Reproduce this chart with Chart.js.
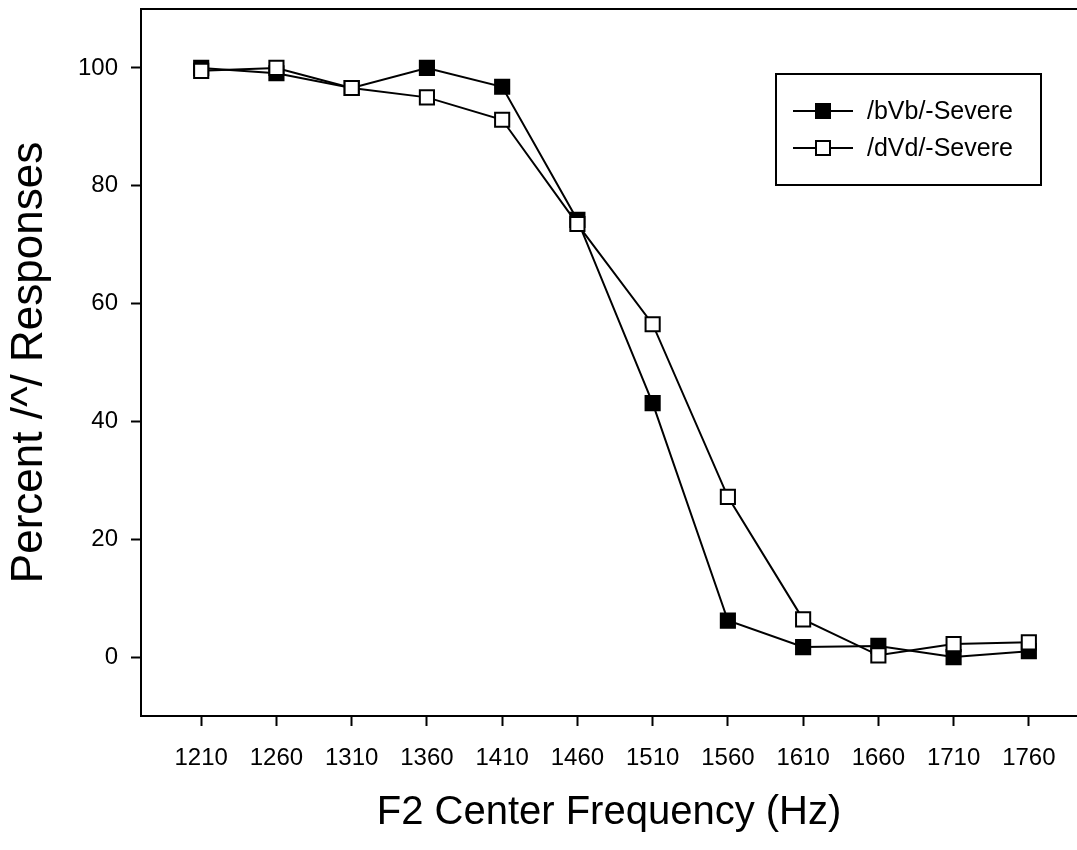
<!DOCTYPE html>
<html>
<head>
<meta charset="utf-8">
<script src="https://cdn.jsdelivr.net/npm/chart.js@4.4.0/dist/chart.umd.min.js"></script>
<style>
    html, body { margin: 0; padding: 0; background: #fff; overflow: hidden; }
    canvas { display: block; }
</style>
</head>
<body>
<canvas id="graficoF2" width="1077" height="850"></canvas>
<script>
// valores
var frequencias = [1210, 1260, 1310, 1360, 1410, 1460, 1510, 1560, 1610, 1660, 1710, 1760];
var valoresBVb = [100, 99.1, 96.6, 100, 96.8, 74.2, 43.1, 6.2, 1.7, 1.9, 0, 1.0];
var valoresDVd = [99.5, 100, 96.6, 95, 91.2, 73.5, 56.5, 27.2, 6.4, 0.3, 2.2, 2.5];
var ticksY = [0, 20, 40, 60, 80, 100];
var ticksX = frequencias;
var nomesSeries = ["/bVb/-Severe", "/dVd/-Severe"];

var fonte = "'Liberation Sans', Arial, sans-serif";

function MontarPontos(valores) {
    return frequencias.map(function (f, i) { return { x: f, y: valores[i] }; });
}

// sem o espaco extra que o Chart.js reserva para os rotulos das pontas
function ZerarPadding(scale) {
    scale.paddingTop = 0;
    scale.paddingBottom = 0;
    scale.paddingLeft = 0;
    scale.paddingRight = 0;
}

// legenda desenhada a mao: linha atravessando o marcador, como no original
var legendaComLinha = {
    id: "legendaComLinha",
    afterDraw: function (chart) {
        var ctx = chart.ctx;
        var area = chart.chartArea;

        // linha de cima do quadro
        ctx.save();
        ctx.strokeStyle = "#000";
        ctx.lineWidth = 2;
        ctx.beginPath();
        ctx.moveTo(area.left - 1, area.top);
        ctx.lineTo(area.right, area.top);
        ctx.stroke();

        // caixa da legenda
        ctx.strokeRect(776, 74, 265, 111);

        chart.data.datasets.forEach(function (ds, i) {
            var y = 111 + i * 37;
            ctx.strokeStyle = "#000";
            ctx.lineWidth = 2;
            ctx.beginPath();
            ctx.moveTo(793, y);
            ctx.lineTo(853, y);
            ctx.stroke();

            var lado = 14;
            ctx.fillStyle = ds.pointBackgroundColor;
            ctx.fillRect(823 - lado / 2, y - lado / 2, lado, lado);
            ctx.strokeRect(823 - lado / 2, y - lado / 2, lado, lado);

            ctx.fillStyle = "#000";
            ctx.font = "25px " + fonte;
            ctx.textAlign = "left";
            ctx.textBaseline = "middle";
            ctx.fillText(ds.label, 867, y + 1);
        });
        ctx.restore();
    }
};

var options = {
    type: "line",
    data: {
        datasets: [
            {
                label: nomesSeries[0],
                data: MontarPontos(valoresBVb),
                borderColor: "#000",
                borderWidth: 2,
                pointStyle: "rect",
                pointRadius: 10,
                pointBorderWidth: 2,
                pointBorderColor: "#000",
                pointBackgroundColor: "#000",
                tension: 0,
                order: 1
            },
            {
                label: nomesSeries[1],
                data: MontarPontos(valoresDVd),
                borderColor: "#000",
                borderWidth: 2,
                pointStyle: "rect",
                pointRadius: 10,
                pointBorderWidth: 2,
                pointBorderColor: "#000",
                pointBackgroundColor: "#fff",
                tension: 0,
                order: 0
            }
        ]
    },
    options: {
        responsive: false,
        animation: false,
        devicePixelRatio: 1,
        layout: { autoPadding: false, padding: { top: 9, right: 0, left: 0, bottom: 0 } },
        plugins: {
            legend: { display: false },
            tooltip: { enabled: false }
        },
        scales: {
            x: {
                type: "linear",
                min: 1170,
                max: 1792,
                afterFit: function (scale) { scale.height = 134; ZerarPadding(scale); },
                afterBuildTicks: function (scale) {
                    scale.ticks = ticksX.map(function (v) { return { value: v }; });
                },
                grid: {
                    drawOnChartArea: false,
                    drawTicks: true,
                    tickLength: 10,
                    tickWidth: 2,
                    tickColor: "#000"
                },
                border: { display: true, color: "#000", width: 2 },
                ticks: {
                    color: "#000",
                    font: { family: fonte, size: 24 },
                    padding: 18,
                    maxRotation: 0,
                    autoSkip: false,
                    callback: function (v) { return String(v); }
                },
                title: {
                    display: true,
                    text: "F2 Center Frequency (Hz)",
                    color: "#000",
                    font: { family: fonte, size: 40 },
                    padding: { top: 0, bottom: 13 }
                }
            },
            y: {
                type: "linear",
                min: -10,
                max: 110,
                afterFit: function (scale) { scale.width = 141; ZerarPadding(scale); },
                afterBuildTicks: function (scale) {
                    scale.ticks = ticksY.map(function (v) { return { value: v }; });
                },
                grid: {
                    drawOnChartArea: false,
                    drawTicks: true,
                    tickLength: 10,
                    tickWidth: 2,
                    tickColor: "#000"
                },
                border: { display: true, color: "#000", width: 2 },
                ticks: {
                    color: "#000",
                    font: { family: fonte, size: 24 },
                    padding: 13
                },
                title: {
                    display: true,
                    text: "Percent /^/ Responses",
                    color: "#000",
                    font: { family: fonte, size: 44 },
                    padding: { top: 3, bottom: 0 }
                }
            }
        }
    },
    plugins: [legendaComLinha]
};

var _graficoF2 = new Chart(document.getElementById("graficoF2"), options);
</script>
</body>
</html>
